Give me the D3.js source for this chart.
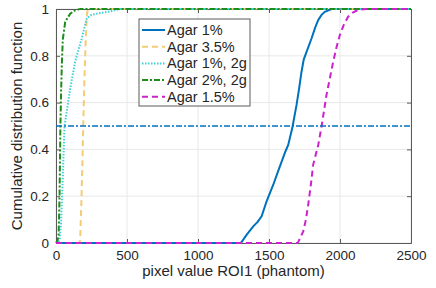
<!DOCTYPE html>
<html>
<head>
<meta charset="utf-8">
<script src="https://cdn.jsdelivr.net/npm/d3@7"></script>
<style>
  body { margin: 0; background: #fff; }
  text { font-family: "Liberation Sans", Arial, sans-serif; fill: #262626; }
</style>
</head>
<body>
<div id="chart"></div>
<script>
// series data: [pixel value, cdf]
const agar1 = [[0,0],[1300,0],[1307,0.004],[1342,0.035],[1389,0.071],[1420,0.09],[1448,0.114],[1483,0.178],[1530,0.249],[1560,0.3],[1589,0.348],[1615,0.39],[1636,0.42],[1666,0.498],[1694,0.59],[1712,0.66],[1729,0.732],[1745,0.785],[1765,0.818],[1800,0.875],[1825,0.92],[1847,0.953],[1870,0.975],[1893,0.988],[1940,1],[2500,1]];
const agar35 = [[0,0],[160,0],[170,0.01],[180,0.2],[190,0.45],[200,0.7],[210,0.88],[218,0.98],[225,1],[2500,1]];
const agar1_2g = [[0,0],[10,0],[25,0.01],[35,0.08],[41,0.17],[48,0.28],[53,0.38],[60,0.5],[80,0.58],[100,0.66],[135,0.775],[160,0.83],[182,0.875],[200,0.92],[217,0.96],[250,0.975],[288,0.98],[381,0.99],[450,1],[2500,1]];
const agar2_2g = [[0,0],[10,0.01],[18,0.03],[22,0.12],[25,0.2],[28,0.35],[31,0.5],[36,0.65],[42,0.78],[48,0.87],[65,0.945],[100,0.98],[135,0.995],[170,1],[2500,1]];
const agar15 = [[0,0],[1700,0],[1706,0.004],[1741,0.05],[1760,0.1],[1776,0.163],[1795,0.25],[1811,0.334],[1847,0.42],[1870,0.498],[1905,0.633],[1952,0.775],[1975,0.835],[1999,0.889],[2025,0.93],[2057,0.967],[2090,0.985],[2128,0.996],[2187,1],[2500,1]];
const medianLevel = 0.5;

const xTicks = [0, 500, 1000, 1500, 2000, 2500];
const yTicks = [0, 0.2, 0.4, 0.6, 0.8, 1];

const series = [
  { name: "Agar 1%", data: agar1, color: "#0072BD", dash: null, width: 2 },
  { name: "Agar 3.5%", data: agar35, color: "#f5cb74", dash: "6,4", width: 2 },
  { name: "Agar 1%, 2g", data: agar1_2g, color: "#3fd0d8", dash: "1.5,1.5", width: 2 },
  { name: "Agar 2%, 2g", data: agar2_2g, color: "#1c8c1c", dash: "6,2,2,2", width: 2 },
  { name: "Agar 1.5%", data: agar15, color: "#cc22cc", dash: "6,4", width: 2 }
];

const width = 436, height = 288;
const margin = { top: 9, right: 25, bottom: 45, left: 56 };

const svg = d3.select("#chart").append("svg")
  .attr("width", width).attr("height", height);

const x = d3.scaleLinear().domain([0, 2500]).range([margin.left, width - margin.right]);
const y = d3.scaleLinear().domain([0, 1]).range([height - margin.bottom, margin.top]);

// grid
const grid = svg.append("g");
grid.selectAll(".gx").data(xTicks).join("line")
  .attr("x1", d => x(d)).attr("x2", d => x(d))
  .attr("y1", y(0)).attr("y2", y(1))
  .attr("stroke", "#e8e8e8").attr("stroke-width", 1);
grid.selectAll(".gy").data(yTicks).join("line")
  .attr("x1", x(0)).attr("x2", x(2500))
  .attr("y1", d => y(d)).attr("y2", d => y(d))
  .attr("stroke", "#e8e8e8").attr("stroke-width", 1);

// axes (ticks inside, MATLAB style)
const xAxis = svg.append("g")
  .attr("transform", `translate(0,${y(0)})`)
  .call(d3.axisBottom(x).tickValues(xTicks).tickSize(-4).tickPadding(7).tickFormat(d3.format("d")));
const yAxis = svg.append("g")
  .attr("transform", `translate(${x(0)},0)`)
  .call(d3.axisLeft(y).tickValues(yTicks).tickSize(-4).tickPadding(7).tickFormat(d => d === 0 || d === 1 ? d : d3.format(".1f")(d)));
const xTop = svg.append("g")
  .attr("transform", `translate(0,${y(1)})`)
  .call(d3.axisTop(x).tickValues(xTicks).tickSize(-4).tickFormat(""));
const yRight = svg.append("g")
  .attr("transform", `translate(${x(2500)},0)`)
  .call(d3.axisRight(y).tickValues(yTicks).tickSize(-4).tickFormat(""));

[xAxis, yAxis, xTop, yRight].forEach(g => {
  g.select(".domain").attr("stroke", "#5a5a5a");
  g.selectAll(".tick line").attr("stroke", "#5a5a5a");
  g.selectAll(".tick text").style("font-size", "13.5px").attr("fill", "#262626");
});

// lines
const line = d3.line().x(d => x(d[0])).y(d => y(d[1]));
svg.append("g").selectAll("path").data(series).join("path")
  .attr("d", d => line(d.data))
  .attr("fill", "none")
  .attr("stroke", d => d.color)
  .attr("stroke-width", d => d.width)
  .attr("stroke-dasharray", d => d.dash);

// median line
svg.append("line")
  .attr("x1", x(0)).attr("x2", x(2500))
  .attr("y1", y(medianLevel)).attr("y2", y(medianLevel))
  .attr("stroke", "#0072BD").attr("stroke-width", 1.5)
  .attr("stroke-dasharray", "6,2,2,2");

// axis labels
svg.append("text")
  .attr("x", (x(0) + x(2500)) / 2).attr("y", 276)
  .attr("text-anchor", "middle").style("font-size", "15px")
  .text("pixel value ROI1 (phantom)");
svg.append("text")
  .attr("transform", `translate(22,${(y(0) + y(1)) / 2}) rotate(-90)`)
  .attr("text-anchor", "middle").style("font-size", "15px")
  .text("Cumulative distribution function");

// legend
const lg = svg.append("g").attr("transform", "translate(139,19)");
lg.append("rect").attr("width", 111).attr("height", 87)
  .attr("fill", "#fff").attr("stroke", "#5a5a5a").attr("stroke-width", 1);
const item = lg.selectAll(".item").data(series).join("g")
  .attr("transform", (d, i) => `translate(0,${11 + i * 16.7})`);
item.append("line")
  .attr("x1", 3).attr("x2", 26).attr("y1", 0).attr("y2", 0)
  .attr("stroke", d => d.color).attr("stroke-width", d => d.width)
  .attr("stroke-dasharray", d => d.dash);
item.append("text")
  .attr("x", 28).attr("y", 0).attr("dy", "0.35em")
  .style("font-size", "14.5px")
  .text(d => d.name);
</script>
</body>
</html>
